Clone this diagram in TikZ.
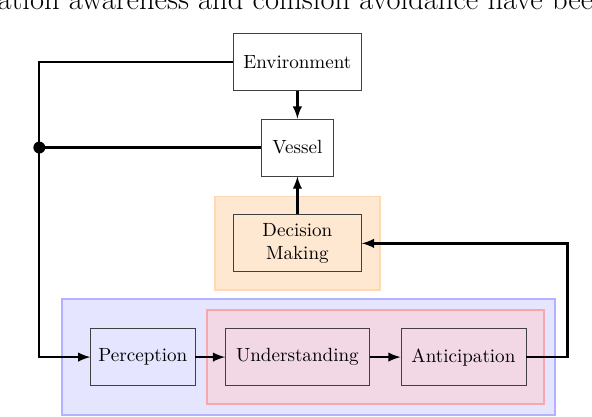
\documentclass[tikz,border=0pt]{standalone}
\usepackage{tikz}
\usetikzlibrary{shapes, arrows, positioning, fit, backgrounds}

\tikzset{
    block/.style={draw=black!75, rectangle, minimum height=1.05cm, inner xsep=5.5pt},
    wire/.style={very thick, black},
    stage/.style={rectangle, line width=1pt},
}

\begin{document}
\begin{tikzpicture}[node distance=0.55cm]
        \useasboundingbox (0,0) rectangle (10.9,7.66);
        \clip (0,0) rectangle (10.9,7.66);

        % Line of running text above the figure
        \node (runtext) [anchor=base west, inner sep=0, font=\fontsize{16}{19}\selectfont] at (-0.05,7.49) {ation awareness and collision avoidance have bee};

        % Draw the blocks
        \node (perception)    [block, inner xsep=4pt] at (2.63,1.085) {Perception};
        \node (understanding) [block, right=0.55cm of perception] {Understanding};
        \node (anticipation)  [block, right=0.57cm of understanding] {Anticipation};
        \node (decision)      [block, align=center, minimum width=2.36cm, above=1.03cm of understanding] {Decision\\Making};
        \node (vessel)        [block, above=0.70cm of decision] {Vessel};
        \node (environment)   [block, above=0.51cm of vessel] {Environment};

        % Draw the coloured areas
        \begin{scope}[on background layer]
            \node (awareness) [stage, draw=blue!30, fill=blue!10, inner sep=0.53cm, fit=(perception)(understanding)(anticipation)] {};
            \node (projection) [stage, draw=red!40, draw opacity=0.8, fill=red!20, fill opacity=0.5, inner sep=0.33cm, fit=(understanding)(anticipation)] {};
            \node (deciding) [stage, draw=orange!30, fill=orange!18, inner sep=0.33cm, fit=(decision)] {};
        \end{scope}

        % Points where the lines turn
        \coordinate [left=0.94cm of perception.west] (leftfoot);
        \coordinate (junction) at (leftfoot |- vessel.west);
        \coordinate [right=0.76cm of anticipation.east] (rightfoot);
        \coordinate (rightturn) at (rightfoot |- decision.east);

        % Draw the connecting lines
        \draw [wire, -latex] (environment) -- (vessel);
        \draw [wire, -latex] (decision) -- (vessel);
        \draw [wire, -latex] (environment.west) -| (junction) |- (perception.west);
        \draw [wire] (vessel.west) -- (junction);
        \fill (junction) circle (0.11);
        \draw [wire, -latex] (perception) -- (understanding);
        \draw [wire, -latex] (understanding) -- (anticipation);
        \draw [wire, -latex] (anticipation.east) -| (rightturn) -- (decision.east);
    \end{tikzpicture}
\end{document}
